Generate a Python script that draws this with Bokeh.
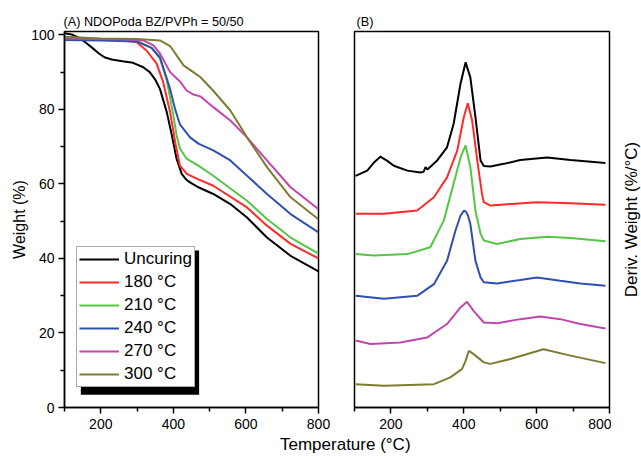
from bokeh.plotting import figure
from bokeh.models import (FixedTicker, Legend, LegendItem, BoxAnnotation,
                          Range1d, Div)
from bokeh.layouts import row, column
from bokeh.embed import file_html
from bokeh.resources import INLINE

FONT = "Liberation Sans"

# ---------------- Panel (A): TGA weight (%) ----------------
uncuring_t = [100, 120, 142, 160, 179, 195, 210, 230, 260, 289, 317, 335, 350, 363, 382, 396, 409, 423, 435, 446, 469, 510, 557, 603, 658, 723, 800]
uncuring_w = [100.4, 100.1, 99.1, 97.8, 96.3, 95.0, 94.0, 93.4, 92.9, 92.5, 91.3, 90.0, 88.0, 85.5, 79.2, 73.0, 66.7, 62.7, 61.2, 60.4, 59.1, 57.3, 54.6, 51.0, 45.6, 40.7, 36.5]

c180_t = [100, 200, 250, 299, 326, 354, 372, 391, 405, 418, 437, 469, 510, 603, 658, 723, 800]
c180_w = [99.0, 98.8, 98.7, 98.0, 95.8, 92.3, 87.3, 79.3, 71.2, 64.9, 62.7, 61.2, 59.5, 53.7, 48.8, 43.9, 40.0]

c210_t = [100, 200, 300, 340, 363, 382, 400, 409, 418, 437, 469, 510, 603, 658, 723, 800]
c210_w = [99.0, 98.8, 98.4, 96.5, 93.6, 87.8, 78.4, 73.0, 69.5, 66.7, 64.9, 62.2, 55.5, 50.6, 45.6, 41.3]

c240_t = [100, 200, 300, 340, 363, 391, 405, 418, 446, 469, 510, 557, 603, 658, 723, 800]
c240_w = [98.6, 98.5, 98.2, 96.5, 94.0, 85.5, 80.0, 76.0, 72.5, 70.8, 69.0, 66.3, 62.2, 57.3, 51.9, 47.0]

c270_t = [100, 200, 300, 317, 345, 363, 391, 418, 437, 455, 474, 510, 557, 603, 658, 723, 800]
c270_w = [99.0, 98.9, 98.7, 98.5, 97.2, 95.0, 90.0, 87.5, 85.0, 84.0, 83.5, 80.6, 77.0, 72.5, 66.3, 59.1, 53.2]

c300_t = [100, 200, 300, 363, 391, 409, 428, 455, 474, 510, 557, 603, 658, 723, 800]
c300_w = [99.5, 99.0, 98.9, 98.5, 97.0, 94.5, 91.8, 90.0, 88.7, 85.0, 79.7, 72.5, 64.5, 56.4, 50.5]

# ---------------- Panel (B): DTG (offset, arbitrary units) ----------------
d_unc_t = [103, 135, 155, 171, 190, 208, 245, 281, 290, 295, 300, 327, 354, 372, 391, 405, 418, 432, 446, 455, 473, 510, 555, 629, 693, 789]
d_unc_v = [61.6, 63.0, 65.3, 66.7, 65.6, 64.3, 63.0, 62.5, 62.7, 63.9, 63.3, 65.7, 69.2, 75.4, 86.1, 91.8, 87.8, 77.2, 65.7, 64.2, 64.1, 64.8, 65.8, 66.5, 65.8, 65.0]

d180_t = [103, 181, 272, 318, 354, 382, 400, 411, 423, 437, 450, 455, 473, 510, 601, 693, 789]
d180_v = [51.5, 51.5, 52.4, 55.9, 61.2, 68.3, 77.2, 80.9, 76.3, 65.7, 56.8, 54.6, 53.7, 54.0, 54.6, 54.3, 53.9]

d210_t = [103, 153, 245, 308, 345, 372, 391, 405, 418, 432, 446, 455, 491, 555, 629, 693, 789]
d210_v = [40.8, 40.4, 40.8, 42.6, 49.7, 59.5, 66.5, 69.7, 63.9, 52.4, 46.2, 44.4, 43.5, 44.8, 45.4, 45.1, 44.2]

d240_t = [103, 181, 272, 318, 354, 377, 391, 400, 405, 411, 418, 432, 446, 455, 491, 555, 601, 665, 720, 789]
d240_v = [29.7, 28.9, 29.7, 32.8, 39.0, 47.0, 51.0, 52.3, 52.2, 51.2, 48.8, 39.0, 34.6, 33.3, 33.0, 33.9, 34.6, 33.7, 33.0, 32.4]

d270_t = [103, 144, 226, 299, 354, 391, 409, 427, 455, 491, 555, 610, 665, 720, 789]
d270_v = [17.8, 16.9, 17.3, 18.6, 22.2, 26.6, 28.1, 25.7, 22.6, 22.4, 23.5, 24.2, 23.5, 22.2, 21.0]

d300_t = [103, 181, 318, 363, 395, 405, 414, 427, 455, 473, 528, 619, 693, 789]
d300_v = [6.2, 5.8, 6.2, 8.0, 10.2, 12.4, 15.1, 14.2, 12.0, 11.6, 12.9, 15.5, 13.8, 11.8]

labels = ["Uncuring", "180 \u00b0C", "210 \u00b0C", "240 \u00b0C", "270 \u00b0C", "300 \u00b0C"]
colors = ["#000000", "#ff2a2a", "#55c545", "#3050b0", "#c246ae", "#7d7d32"]

tga = [(uncuring_t, uncuring_w), (c180_t, c180_w), (c210_t, c210_w),
       (c240_t, c240_w), (c270_t, c270_w), (c300_t, c300_w)]
dtg = [(d_unc_t, d_unc_v), (d180_t, d180_v), (d210_t, d210_v),
       (d240_t, d240_v), (d270_t, d270_v), (d300_t, d300_v)]

x_major = [200, 400, 600, 800]
x_minor = [100, 300, 500, 700]
y_major = [0, 20, 40, 60, 80, 100]
y_minor = [10, 30, 50, 70, 90]


def style_axis(ax):
    ax.axis_line_width = 1.5
    ax.axis_line_color = "black"
    ax.major_tick_line_width = 1.5
    ax.minor_tick_line_width = 1.5
    ax.major_tick_in = 0
    ax.major_tick_out = 6
    ax.minor_tick_in = 0
    ax.minor_tick_out = 4
    ax.major_label_text_font = FONT
    ax.major_label_text_font_size = "14px"
    ax.major_label_text_color = "black"
    ax.major_label_standoff = 5
    ax.axis_label_text_font = FONT
    ax.axis_label_text_font_style = "normal"
    ax.axis_label_text_font_size = "16px"
    ax.axis_label_text_color = "black"


def base_style(p, title, offset):
    p.grid.visible = False
    p.outline_line_color = "black"
    p.outline_line_width = 1.5
    p.outline_line_alpha = 1
    p.title.text = title
    p.title.text_font = FONT
    p.title.text_font_size = "12.7px"
    p.title.text_font_style = "normal"
    p.title.text_color = "black"
    p.title.align = "left"
    p.title.standoff = 6
    p.title.offset = offset


# ---------------- figure A ----------------
p1 = figure(width=346, height=435, x_range=Range1d(100, 800), y_range=Range1d(0, 100.9),
            output_backend="svg", toolbar_location=None,
            min_border_left=64, min_border_right=28, min_border_top=31, min_border_bottom=28)
base_style(p1, "(A) NDOPoda BZ/PVPh = 50/50", -1)
style_axis(p1.xaxis[0])
style_axis(p1.yaxis[0])
p1.xaxis.ticker = FixedTicker(ticks=x_major, minor_ticks=x_minor)
p1.yaxis.ticker = FixedTicker(ticks=y_major, minor_ticks=y_minor)
p1.yaxis.axis_label = "Weight (%)"
p1.yaxis.axis_label_standoff = 0
p1.yaxis.major_label_standoff = 4

renderers = []
for (t, w), c in zip(tga, colors):
    renderers.append(p1.line(t, w, line_color=c, line_width=2))

shadow = BoxAnnotation(left=145, right=471, top=42.1, bottom=3.4,
                       fill_color="black", fill_alpha=1, line_color=None, level="annotation")
p1.add_layout(shadow)

legend = Legend(items=[LegendItem(label=l, renderers=[r]) for l, r in zip(labels, renderers)],
                location=(12, 20), orientation="vertical",
                label_text_font=FONT, label_text_font_size="17px", label_text_color="black",
                glyph_width=40, glyph_height=20, label_height=20, label_standoff=5,
                spacing=3, padding=2, margin=0,
                border_line_color="#555555", border_line_width=1,
                background_fill_color="white", background_fill_alpha=1)
p1.add_layout(legend)

# ---------------- figure B ----------------
p2 = figure(width=265, height=435, x_range=Range1d(100, 800), y_range=Range1d(0, 100),
            output_backend="svg", toolbar_location=None, y_axis_location=None,
            min_border_left=8, min_border_right=2, min_border_top=31, min_border_bottom=28)
base_style(p2, "(B)", 2)
style_axis(p2.xaxis[0])
p2.xaxis.ticker = FixedTicker(ticks=x_major, minor_ticks=x_minor)

for (t, v), c in zip(dtg, colors):
    p2.line(t, v, line_color=c, line_width=2)

# ---------------- strip holding panel B's y-axis title (reads bottom-to-top) ----------------
p3 = figure(width=30, height=435, x_range=Range1d(0, 1), y_range=Range1d(0, 100),
            output_backend="svg", toolbar_location=None, x_axis_location=None,
            min_border_left=29, min_border_right=0, min_border_top=31, min_border_bottom=28)
p3.grid.visible = False
p3.outline_line_color = None
style_axis(p3.yaxis[0])
p3.yaxis.ticker = FixedTicker(ticks=[])
p3.yaxis.axis_line_color = None
p3.yaxis.major_tick_out = 0
p3.yaxis.minor_tick_out = 0
p3.yaxis.major_label_standoff = 0
p3.yaxis.axis_label_standoff = 0
p3.yaxis.axis_label = "Deriv. Weight (%/\u00b0C)"
p3.yaxis.axis_label_text_font_size = "17px"

xlabel = Div(text='<span style="margin-left:280px">Temperature (\u00b0C)</span>',
             width=641, height=20, margin=0,
             styles={"font-family": FONT, "font-size": "17px", "line-height": "20px",
                     "color": "black", "white-space": "nowrap", "overflow": "visible"})

layout = column(row(p1, p2, p3, spacing=0), xlabel, spacing=0)

open("out.html", "w").write(file_html(layout, INLINE))
